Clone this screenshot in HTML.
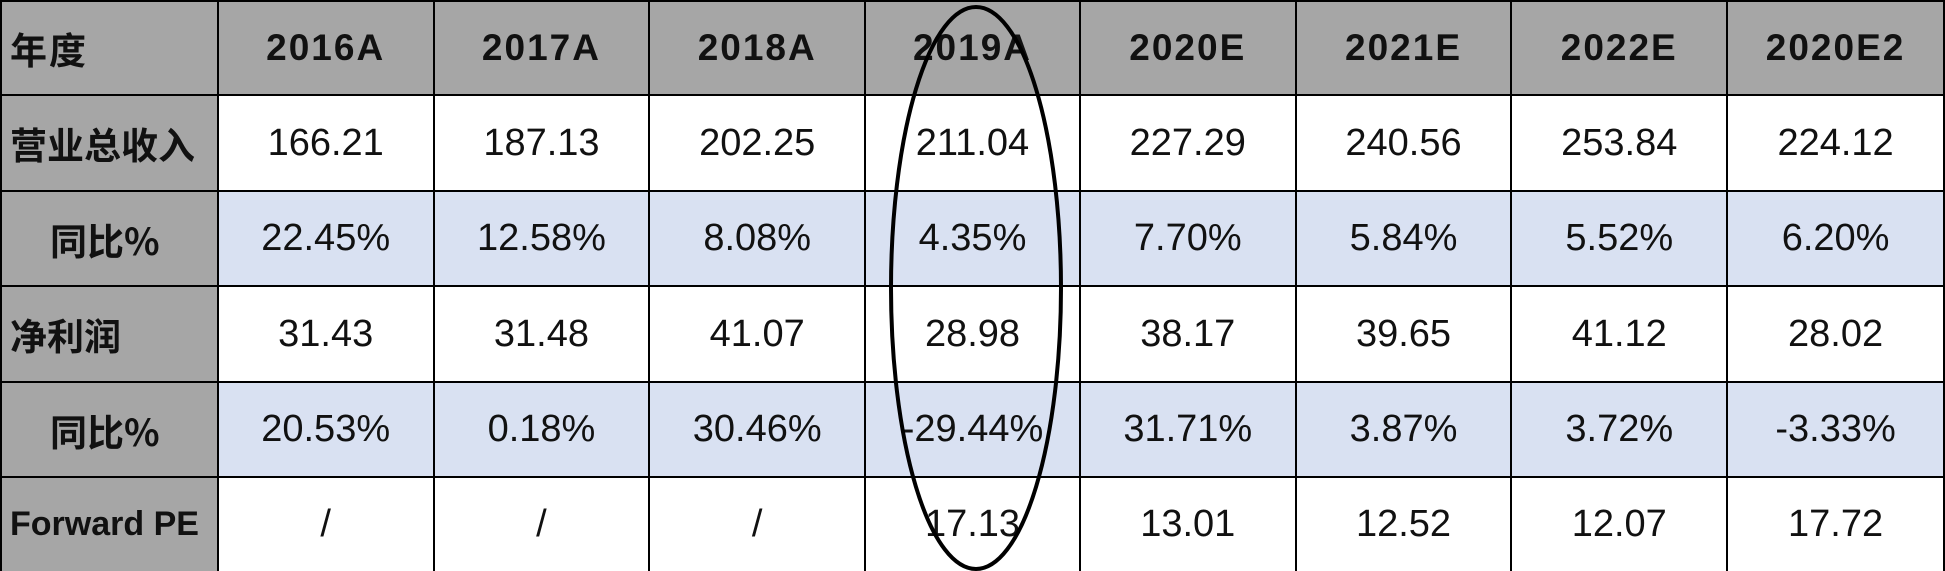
<!DOCTYPE html>
<html><head><meta charset="utf-8"><style>
html,body{margin:0;padding:0;background:#fff;}
#w{position:relative;width:1945px;height:571px;overflow:hidden;font-family:"Liberation Sans","Noto Sans CJK SC",sans-serif;}
table{position:absolute;left:0;top:0;border-collapse:collapse;table-layout:fixed;}
td{border:2px solid #000;text-align:center;font-size:38px;color:#111;padding:0;}
tr.h td{background:#a6a6a6;font-weight:bold;font-size:37px;letter-spacing:2px;}
td.l{background:#a6a6a6;text-align:left;font-family:"Noto Sans CJK SC","WenQuanYi Zen Hei",sans-serif;font-weight:bold;font-size:37px;padding-left:8px;letter-spacing:0;}
td.l2{padding-left:48px;}
td.fp{font-family:"Liberation Sans",sans-serif;font-size:34px;}
tr.b td:not(.l){background:#d9e1f2;}
</style></head><body><div id="w">
<table>
<colgroup><col style="width:217px"><col style="width:216px"><col style="width:216px"><col style="width:216px"><col style="width:215px"><col style="width:216px"><col style="width:216px"><col style="width:216px"><col style="width:217px"></colgroup>
<tr class="h" style="height:94px"><td class="l">年度</td><td>2016A</td><td>2017A</td><td>2018A</td><td>2019A</td><td>2020E</td><td>2021E</td><td>2022E</td><td>2020E2</td></tr>
<tr style="height:96px"><td class="l">营业总收入</td><td>166.21</td><td>187.13</td><td>202.25</td><td>211.04</td><td>227.29</td><td>240.56</td><td>253.84</td><td>224.12</td></tr>
<tr class="b" style="height:95px"><td class="l l2">同比%</td><td>22.45%</td><td>12.58%</td><td>8.08%</td><td>4.35%</td><td>7.70%</td><td>5.84%</td><td>5.52%</td><td>6.20%</td></tr>
<tr style="height:96px"><td class="l">净利润</td><td>31.43</td><td>31.48</td><td>41.07</td><td>28.98</td><td>38.17</td><td>39.65</td><td>41.12</td><td>28.02</td></tr>
<tr class="b" style="height:95px"><td class="l l2">同比%</td><td>20.53%</td><td>0.18%</td><td>30.46%</td><td>-29.44%</td><td>31.71%</td><td>3.87%</td><td>3.72%</td><td>-3.33%</td></tr>
<tr style="height:95px"><td class="l fp">Forward PE</td><td>/</td><td>/</td><td>/</td><td>17.13</td><td>13.01</td><td>12.52</td><td>12.07</td><td>17.72</td></tr>
</table>
<svg width="1945" height="571" style="position:absolute;left:0;top:0">
<ellipse cx="976" cy="288" rx="85" ry="281" fill="none" stroke="#000" stroke-width="4"/>
</svg>
</div></body></html>
